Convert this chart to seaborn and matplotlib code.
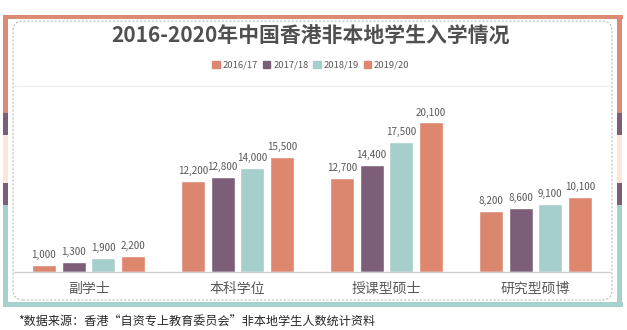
import matplotlib
matplotlib.use("Agg")
import matplotlib.pyplot as plt
from matplotlib.patches import Rectangle, FancyBboxPatch
import seaborn as sns
import pandas as pd

categories = ["副学士", "本科学位", "授课型硕士", "研究型硕博"]
years = ["2016/17", "2017/18", "2018/19", "2019/20"]
v2016 = [1000, 12200, 12700, 8200]
v2017 = [1300, 12800, 14400, 8600]
v2018 = [1900, 14000, 17500, 9100]
v2019 = [2200, 15500, 20100, 10100]
colors = ["#DB8770", "#7C5E78", "#A6CECA", "#DE866E"]
title = "2016-2020年中国香港非本地学生入学情况"
footnote = "*数据来源：香港“自资专上教育委员会”非本地学生人数统计资料"

rows = []
for yr, vals in zip(years, [v2016, v2017, v2018, v2019]):
    for c, v in zip(categories, vals):
        rows.append({"cat": c, "year": yr, "val": v})
df = pd.DataFrame(rows)

sns.set_theme(style="white")
plt.rcParams["font.family"] = ["Noto Sans CJK SC", "DejaVu Sans"]

W, H = 627, 330
fig = plt.figure(figsize=(W / 100, H / 100), dpi=100, facecolor="white")
T = fig.dpi_scale_trans


def rect(x0, y0, x1, y1, color):
    fig.patches.append(Rectangle((x0 / 100, (H - y1) / 100), (x1 - x0) / 100,
                                 (y1 - y0) / 100, transform=T, color=color,
                                 lw=0, zorder=-5))


salmon, purple, peach, teal = "#DB8B74", "#7C5E78", "#FCE6DA", "#A6D0CC"
# outer decorative frame
rect(3, 15, 623, 19, salmon)
rect(3, 302, 623, 307, teal)
for x0, x1 in [(3, 8), (617, 622)]:
    rect(x0, 15, x1, 113, salmon)
    rect(x0, 113, x1, 135, purple)
    rect(x0, 135, x1, 183, peach)
    rect(x0, 183, x1, 205, purple)
    rect(x0, 205, x1, 307, teal)
# white inner area
rect(8, 19, 617, 302, "white")
# dashed rounded panel
fig.patches.append(FancyBboxPatch((13 / 100, (H - 300) / 100), 599 / 100, 279 / 100,
                                  boxstyle="round,pad=0,rounding_size=0.1",
                                  transform=T, fc="white", ec="#BDBDBD",
                                  lw=0.8, ls=(0, (2, 1.5)), zorder=-4))

ax = fig.add_axes([14 / W, (H - 272) / H, 596 / W, 186 / H])
ax.set_zorder(2)
ax.set_facecolor("none")
sns.barplot(data=df, x="cat", y="val", hue="year", hue_order=years,
            order=categories, palette=colors, width=0.8, gap=0.2,
            saturation=1, ax=ax, legend=False)
ax.set_ylim(0, 25000)
ax.set_xlim(-0.5, 3.5)
ax.set_xlabel("")
ax.set_ylabel("")
ax.set_yticks([])
ax.tick_params(axis="x", length=0, pad=7, labelsize=10, labelcolor="#595959")
for s in ["left", "right"]:
    ax.spines[s].set_visible(False)
ax.spines["bottom"].set_color("#D0D0D0")
ax.spines["bottom"].set_linewidth(1)
ax.spines["top"].set_color("#EDEDED")
ax.spines["top"].set_linewidth(0.8)

for cont in ax.containers:
    ax.bar_label(cont, labels=[f"{b.get_height():,.0f}" for b in cont],
                 padding=3.5, fontsize=7.1, color="#595959")

fig.text(311 / W, 1 - 36 / H, title, ha="center", va="center",
         fontsize=15, fontweight="bold", color="#505050")

handles = [Rectangle((0, 0), 1, 1, color=c) for c in colors]
fig.legend(handles, years, loc="center", bbox_to_anchor=(311 / W, 1 - 65 / H),
           ncol=4, frameon=False, fontsize=6.8, handlelength=0.8,
           handleheight=0.8, handletextpad=0.3, columnspacing=0.5,
           labelcolor="#595959", borderpad=0)

fig.text(18 / W, 1 - 322 / H, footnote, ha="left", va="center",
         fontsize=8.7, color="#262626")

fig.savefig("out.png", dpi=100, facecolor="white")
